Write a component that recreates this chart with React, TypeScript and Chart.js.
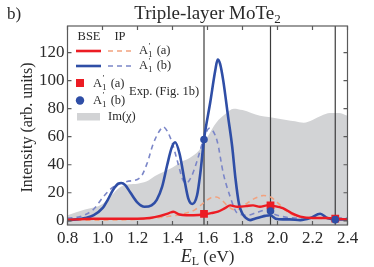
import React, { useEffect, useRef } from "react";
import { Chart, registerables } from "chart.js";
Chart.register(...registerables);

const X_TICKS = [0.8, 1.0, 1.2, 1.4, 1.6, 1.8, 2.0, 2.2, 2.4];
const Y_TICKS = [0, 20, 40, 60, 80, 100, 120];
const X_MIN = 0.8, X_MAX = 2.4, Y_MIN = -3, Y_MAX = 139;

// Im(chi) (grey area)
const IMCHI_X = [0.8, 0.9, 1.0, 1.05, 1.1, 1.15, 1.2, 1.25, 1.3, 1.35, 1.4, 1.45, 1.5, 1.55, 1.6, 1.65, 1.7, 1.75, 1.8, 1.85, 1.9, 1.95, 2.0, 2.05, 2.1, 2.15, 2.2, 2.25, 2.3, 2.35, 2.4];
const IMCHI_Y = [4, 8, 12, 18, 24, 26, 26.5, 28, 32, 35, 38, 42, 45, 50, 60, 70, 76, 80, 79, 77, 75, 74, 73, 72, 71, 70, 72, 75, 77, 77, 75];

// BSE A1'(b) (blue solid)
const BSE_B_X = [0.8, 0.85, 0.9, 0.95, 1.0, 1.03, 1.06, 1.09, 1.107, 1.13, 1.16, 1.2, 1.24, 1.28, 1.31, 1.34, 1.37, 1.395, 1.415, 1.44, 1.47, 1.49, 1.513, 1.54, 1.56, 1.58, 1.615, 1.644, 1.658, 1.672, 1.69, 1.718, 1.741, 1.76, 1.78, 1.80, 1.82, 1.843, 1.87, 1.90, 1.93, 1.958, 1.99, 2.03, 2.07, 2.13, 2.187, 2.244, 2.284, 2.33, 2.4];
const BSE_B_Y = [0.5, 1, 2, 4, 9, 15, 22, 26.5, 27, 25.5, 20, 13, 10, 11, 15, 24, 40, 52, 56, 48, 28, 16, 12, 18, 35, 58, 84, 107, 115, 112, 100, 74, 53, 30, 12, 5, 2, 0.5, 1.5, 2.5, 3.5, 4, 1.5, 1, 1, 0.5, 2, 5, 2, 1, 1];

// BSE A1'(a) (red solid)
const BSE_A_X = [0.8, 0.95, 1.1, 1.2, 1.27, 1.33, 1.38, 1.405, 1.44, 1.48, 1.52, 1.58, 1.62, 1.66, 1.7, 1.73, 1.77, 1.82, 1.86, 1.9, 1.94, 1.98, 2.03, 2.08, 2.13, 2.2, 2.28, 2.33, 2.4];
const BSE_A_Y = [0.7, 1.5, 1.5, 1.5, 2, 3.5, 5.5, 6.5, 4.5, 4, 4, 4.5, 5.5, 6.5, 9, 11, 10, 10.5, 11, 10, 11, 10.5, 9, 5.5, 3, 2, 2, 1.5, 1];

// IP A1'(b) (blue dashed)
const IP_B_X = [0.8, 0.873, 0.947, 1.004, 1.06, 1.14, 1.216, 1.255, 1.29, 1.33, 1.347, 1.37, 1.4, 1.427, 1.46, 1.48, 1.51, 1.541, 1.575, 1.61, 1.655, 1.69, 1.73, 1.77, 1.827, 1.884, 1.94, 1.975, 2.03, 2.1, 2.2, 2.3, 2.4];
const IP_B_Y = [2, 3, 8, 17, 24, 28, 31, 41, 55, 65, 67, 64, 55, 43, 29, 27, 32, 43, 57, 66, 57, 34, 17, 5.5, 4, 6, 8, 5, 3, 2, 2, 2, 2];

// IP A1'(a) (orange dashed)
const IP_A_X = [0.8, 1.0, 1.2, 1.3, 1.4, 1.48, 1.53, 1.58, 1.62, 1.65, 1.68, 1.72, 1.75, 1.78, 1.82, 1.87, 1.92, 1.96, 2.0, 2.05, 2.1, 2.2, 2.3, 2.4];
const IP_A_Y = [0.3, 0.5, 1, 2, 3.5, 5.5, 8, 13, 16.5, 17, 15, 10, 8, 8.5, 12, 16, 18, 17, 13, 7, 3.5, 2, 1.5, 1];

// Experiment (Fig. 1b)
const EXP_X = [1.58, 1.96, 2.33];
const EXP_A = [5, 11, 1.5];
const EXP_B = [58, 7, 0.8];

const RED = "#ec1c24";
const BLUE = "#2f4ea6";
const BLUE_D = "#7b86c8";
const ORANGE_D = "#f2a27f";
const GREY = "#d2d3d5";
const SERIF = '"Liberation Serif", "DejaVu Serif", serif';
const TXT = "#2a2a2a";

function pts(xs: number[], ys: number[]) {
  return xs.map((x, i) => ({ x, y: ys[i] }));
}

function drawA1(ctx: CanvasRenderingContext2D, x: number, y: number, tail: string, size: number) {
  ctx.font = `${size}px ${SERIF}`;
  ctx.textAlign = "left";
  ctx.fillText("A", x, y);
  const w = ctx.measureText("A").width;
  ctx.font = `${size * 0.72}px ${SERIF}`;
  ctx.fillText("\u2032", x + w + 0.5, y - size * 0.42);
  ctx.fillText("1", x + w, y + size * 0.25);
  const w2 = ctx.measureText("1").width;
  ctx.font = `${size}px ${SERIF}`;
  ctx.fillText(tail, x + w + w2 + 1, y);
}

const decor = {
  id: "decor",
  afterDraw(chart: any) {
    const { ctx, chartArea: a, scales } = chart;
    const x = scales.x, y = scales.y;
    ctx.save();
    // frame
    ctx.strokeStyle = "#5a5a5a";
    ctx.lineWidth = 1.2;
    ctx.strokeRect(a.left, a.top, a.right - a.left, a.bottom - a.top);
    // inward ticks
    ctx.beginPath();
    X_TICKS.forEach((v) => {
      const px = x.getPixelForValue(v);
      ctx.moveTo(px, a.bottom); ctx.lineTo(px, a.bottom - 4);
      ctx.moveTo(px, a.top); ctx.lineTo(px, a.top + 4);
    });
    Y_TICKS.forEach((v) => {
      const py = y.getPixelForValue(v);
      ctx.moveTo(a.left, py); ctx.lineTo(a.left + 4, py);
      ctx.moveTo(a.right, py); ctx.lineTo(a.right - 4, py);
    });
    ctx.stroke();

    ctx.fillStyle = TXT;
    ctx.textBaseline = "alphabetic";
    // panel label & title
    ctx.font = `17px ${SERIF}`;
    ctx.textAlign = "left";
    ctx.fillText("b)", 7, 19);
    ctx.font = `19px ${SERIF}`;
    const t1 = "Triple-layer MoTe";
    const w1 = ctx.measureText(t1).width;
    ctx.font = `13px ${SERIF}`;
    const w2 = ctx.measureText("2").width;
    const cx = (a.left + a.right) / 2;
    const sx = cx - (w1 + w2) / 2;
    ctx.font = `19px ${SERIF}`;
    ctx.fillText(t1, sx, 19);
    ctx.font = `13px ${SERIF}`;
    ctx.fillText("2", sx + w1, 23);

    // y title
    ctx.save();
    ctx.translate(27, (a.top + a.bottom) / 2 + 2);
    ctx.rotate(-Math.PI / 2);
    ctx.textAlign = "center";
    ctx.font = `16px ${SERIF}`;
    ctx.fillText("Intensity (arb. units)", 0, 5);
    ctx.restore();

    // x title
    ctx.font = `italic 18px ${SERIF}`;
    const we = ctx.measureText("E").width;
    ctx.font = `12px ${SERIF}`;
    const wl = ctx.measureText("L").width;
    ctx.font = `17px ${SERIF}`;
    const wr = ctx.measureText(" (eV)").width;
    const xs = cx - (we + wl + wr) / 2;
    ctx.textAlign = "left";
    ctx.font = `italic 18px ${SERIF}`;
    ctx.fillText("E", xs, 262);
    ctx.font = `12px ${SERIF}`;
    ctx.fillText("L", xs + we, 265);
    ctx.font = `17px ${SERIF}`;
    ctx.fillText(" (eV)", xs + we + wl, 262);

    // legend
    ctx.font = `12.5px ${SERIF}`;
    ctx.textAlign = "center";
    ctx.fillText("BSE", 89, 40);
    ctx.fillText("IP", 120, 40);
    const line = (x1: number, x2: number, yy: number, col: string, lw: number, dash: number[]) => {
      ctx.save();
      ctx.strokeStyle = col; ctx.lineWidth = lw; ctx.setLineDash(dash);
      ctx.beginPath(); ctx.moveTo(x1, yy); ctx.lineTo(x2, yy); ctx.stroke();
      ctx.restore();
    };
    line(76, 101, 51, RED, 2.6, []);
    line(108, 132, 51, ORANGE_D, 1.6, [5, 4]);
    line(76, 101, 66, BLUE, 2.6, []);
    line(108, 132, 66, BLUE_D, 1.6, [5, 4]);
    ctx.fillStyle = TXT;
    drawA1(ctx, 139, 54, " (a)", 12.5);
    drawA1(ctx, 139, 69, " (b)", 12.5);
    ctx.fillStyle = RED;
    ctx.fillRect(76, 79, 8, 8);
    ctx.fillStyle = BLUE;
    ctx.beginPath(); ctx.arc(80, 100.5, 4.2, 0, Math.PI * 2); ctx.fill();
    ctx.fillStyle = TXT;
    drawA1(ctx, 93, 86.5, " (a)", 12.5);
    drawA1(ctx, 93, 103.5, " (b)", 12.5);
    ctx.font = `12.5px ${SERIF}`;
    ctx.textAlign = "left";
    ctx.fillText("Exp. (Fig. 1b)", 129, 95);
    ctx.fillStyle = GREY;
    ctx.fillRect(77, 113, 23, 7.5);
    ctx.fillStyle = TXT;
    ctx.font = `12.5px ${SERIF}`;
    ctx.fillText("Im(\u03c7)", 108, 120);
    ctx.restore();
  },
};

export default function App() {
  const ref = useRef<HTMLCanvasElement>(null);
  useEffect(() => {
    const canvas = ref.current!;
    const vline = (v: number) => ({
      type: "line" as const,
      data: [{ x: v, y: Y_MIN }, { x: v, y: Y_MAX }],
      borderColor: "#3c3c3c",
      borderWidth: 1.2,
      pointRadius: 0,
      order: 9,
    });
    const chart = new Chart(canvas, {
      type: "line",
      data: {
        datasets: [
          {
            data: pts(IMCHI_X, IMCHI_Y),
            borderWidth: 0,
            borderColor: GREY,
            backgroundColor: GREY,
            fill: "start",
            pointRadius: 0,
            cubicInterpolationMode: "monotone",
            order: 10,
          },
          ...EXP_X.map(vline),
          {
            data: pts(IP_A_X, IP_A_Y),
            borderColor: ORANGE_D,
            borderWidth: 1.6,
            borderDash: [5, 4],
            pointRadius: 0,
            cubicInterpolationMode: "monotone",
            order: 8,
          },
          {
            data: pts(IP_B_X, IP_B_Y),
            borderColor: BLUE_D,
            borderWidth: 1.6,
            borderDash: [5, 4],
            pointRadius: 0,
            cubicInterpolationMode: "monotone",
            order: 7,
          },
          {
            data: pts(BSE_B_X, BSE_B_Y),
            borderColor: BLUE,
            borderWidth: 2.6,
            pointRadius: 0,
            cubicInterpolationMode: "monotone",
            order: 6,
          },
          {
            data: pts(BSE_A_X, BSE_A_Y),
            borderColor: RED,
            borderWidth: 2.4,
            pointRadius: 0,
            cubicInterpolationMode: "monotone",
            order: 5,
          },
          {
            data: pts(EXP_X, EXP_A),
            showLine: false,
            pointStyle: "rect",
            pointRadius: 5.5,
            pointBackgroundColor: RED,
            pointBorderWidth: 0,
            order: 2,
          },
          {
            data: pts(EXP_X, EXP_B),
            showLine: false,
            pointStyle: "circle",
            pointRadius: 3.8,
            pointBackgroundColor: BLUE,
            pointBorderWidth: 0,
            order: 1,
          },
        ] as any,
      },
      options: {
        responsive: false,
        animation: false,
        devicePixelRatio: 1,
        layout: { padding: { left: 0, top: 26, right: 26.5, bottom: 0 } },
        plugins: { legend: { display: false }, tooltip: { enabled: false } },
        scales: {
          x: {
            type: "linear",
            min: X_MIN,
            max: X_MAX,
            grid: { display: false, drawTicks: false },
            border: { display: false },
            afterBuildTicks: (s: any) => { s.ticks = X_TICKS.map((v) => ({ value: v })); },
            afterFit: (s: any) => { s.height = 42; },
            ticks: {
              padding: 3,
              maxRotation: 0,
              color: TXT,
              font: { family: SERIF, size: 17 },
              callback: (v: any) => Number(v).toFixed(1),
            },
          },
          y: {
            type: "linear",
            min: Y_MIN,
            max: Y_MAX,
            grid: { display: false, drawTicks: false },
            border: { display: false },
            afterBuildTicks: (s: any) => { s.ticks = Y_TICKS.map((v) => ({ value: v })); },
            afterFit: (s: any) => { s.width = 67.5; },
            ticks: {
              padding: 3,
              color: TXT,
              font: { family: SERIF, size: 17 },
              callback: (v: any) => String(v),
            },
          },
        },
      },
      plugins: [decor],
    });
    return () => chart.destroy();
  }, []);
  return (
    <div style={{ position: "fixed", left: 0, top: 0, width: 374, height: 267, background: "#fff" }}>
      <canvas ref={ref} width={374} height={267} style={{ width: 374, height: 267 }} />
    </div>
  );
}
